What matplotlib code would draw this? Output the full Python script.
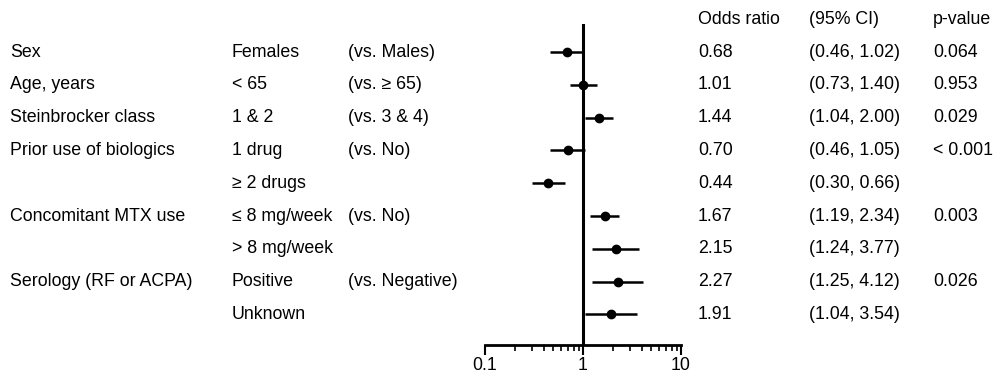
import matplotlib
matplotlib.use('Agg')
import matplotlib.pyplot as plt
import matplotlib.transforms as mtransforms
from matplotlib.ticker import NullFormatter, LogLocator

plt.rcParams['font.family'] = ['Liberation Sans', 'DejaVu Sans']

variables = ['Sex', 'Age, years', 'Steinbrocker class', 'Prior use of biologics', '',
             'Concomitant MTX use', '', 'Serology (RF or ACPA)', '']
levels = ['Females', '< 65', '1 & 2', '1 drug', '≥ 2 drugs',
          '≤ 8 mg/week', '> 8 mg/week', 'Positive', 'Unknown']
refs = ['(vs. Males)', '(vs. ≥ 65)', '(vs. 3 & 4)', '(vs. No)', '',
        '(vs. No)', '', '(vs. Negative)', '']
odds = [0.68, 1.01, 1.44, 0.70, 0.44, 1.67, 2.15, 2.27, 1.91]
ci_lo = [0.46, 0.73, 1.04, 0.46, 0.30, 1.19, 1.24, 1.25, 1.04]
ci_hi = [1.02, 1.40, 2.00, 1.05, 0.66, 2.34, 3.77, 4.12, 3.54]
pvals = ['0.064', '0.953', '0.029', '< 0.001', '', '0.003', '', '0.026', '']
headers = ['Odds ratio', '(95% CI)', 'p-value']
xticks = [0.1, 1, 10]
xticklabels = ['0.1', '1', '10']

W, H = 995, 374
fig = plt.figure(figsize=(W / 100, H / 100), dpi=100)
ax = fig.add_axes([485 / W, (H - 345) / H, (681 - 485) / W, (345 - 24) / H])

rows = list(range(len(odds)))
xerr = [[o - l for o, l in zip(odds, ci_lo)], [h - o for o, h in zip(odds, ci_hi)]]
ax.axvline(1, color='black', lw=2.2, zorder=1)
ax.errorbar(odds, rows, xerr=xerr, fmt='o', color='black', ms=6, lw=1.8,
            capsize=0, zorder=3)

ax.set_xscale('log')
ax.set_xlim(0.1, 10)
ax.set_ylim(8.93, -0.854)
ax.set_xticks(xticks)
ax.set_xticklabels(xticklabels)
ax.xaxis.set_minor_locator(LogLocator(base=10, subs=range(2, 10)))
ax.xaxis.set_minor_formatter(NullFormatter())
ax.tick_params(axis='x', which='major', length=7, width=1.5, labelsize=12.8, pad=2)
ax.tick_params(axis='x', which='minor', length=4, width=1.2)
ax.tick_params(axis='y', left=False, labelleft=False)
for s in ['top', 'right', 'left']:
    ax.spines[s].set_visible(False)
ax.spines['bottom'].set_linewidth(2)

trans = mtransforms.blended_transform_factory(fig.transFigure, ax.transData)
fs = 12.8
cols = [(10, variables), (232, levels), (348, refs),
        (698, ['%.2f' % o for o in odds]),
        (809, ['(%.2f, %.2f)' % (l, h) for l, h in zip(ci_lo, ci_hi)]),
        (933, pvals)]
for x, texts in cols:
    for i, t in enumerate(texts):
        ax.text(x / W, i, t, transform=trans, fontsize=fs, va='center',
                ha='left', clip_on=False)
for x, h in zip([698, 809, 933], headers):
    ax.text(x / W, -0.976, h, transform=trans, fontsize=fs, va='center',
            ha='left', clip_on=False)

fig.savefig('out.png', dpi=100)
